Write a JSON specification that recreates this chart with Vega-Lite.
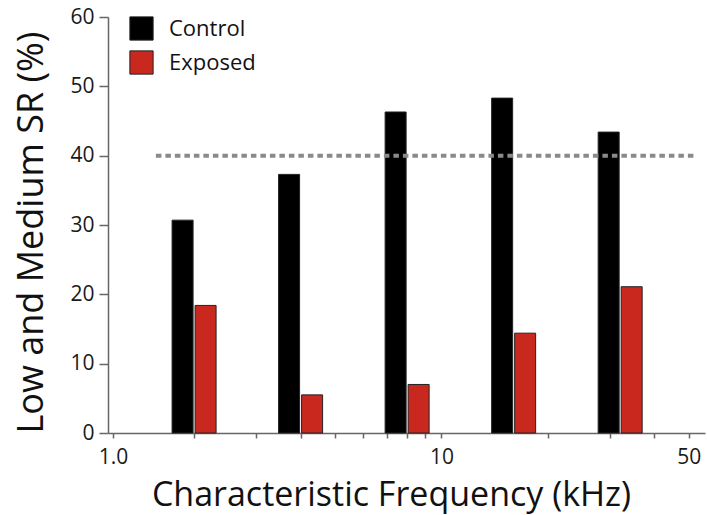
{
  "$schema": "https://vega.github.io/schema/vega-lite/v6.json",
  "width": 597,
  "height": 416,
  "autosize": {"type": "none"},
  "padding": {"left": 108, "top": 17, "right": 2, "bottom": 82},
  "background": "white",
  "config": {
    "view": {"stroke": null},
    "font": "Open Sans",
    "axis": {
      "grid": false,
      "domainColor": "#666666",
      "domainWidth": 1.5,
      "tickColor": "#666666",
      "tickWidth": 1.5,
      "labelFont": "Open Sans",
      "labelFontSize": 21,
      "labelColor": "#1a1a1a",
      "titleFont": "Open Sans",
      "titleFontWeight": "normal",
      "titleColor": "#111111"
    },
    "legend": {
      "orient": "none",
      "legendX": 21,
      "legendY": -1,
      "padding": 0,
      "symbolType": "square",
      "symbolSize": 540,
      "symbolStrokeColor": "#222222",
      "symbolStrokeWidth": 1,
      "labelFont": "Open Sans",
      "labelFontSize": 22,
      "labelColor": "#111111",
      "labelOffset": 15,
      "rowPadding": 5
    }
  },
  "datasets": {
    "bars": [
      {"freq": 2, "group": "Control", "value": 30.7},
      {"freq": 2, "group": "Exposed", "value": 18.4},
      {"freq": 4, "group": "Control", "value": 37.3},
      {"freq": 4, "group": "Exposed", "value": 5.5},
      {"freq": 8, "group": "Control", "value": 46.3},
      {"freq": 8, "group": "Exposed", "value": 7.0},
      {"freq": 16, "group": "Control", "value": 48.3},
      {"freq": 16, "group": "Exposed", "value": 14.4},
      {"freq": 32, "group": "Control", "value": 43.4},
      {"freq": 32, "group": "Exposed", "value": 21.1}
    ],
    "ref": [
      {"freq": 1.56, "freq_end": 51.6, "value": 40}
    ]
  },
  "encoding": {
    "x": {
      "field": "freq",
      "type": "quantitative",
      "scale": {"type": "log", "domain": [1.18, 53.8], "nice": false, "zero": false},
      "axis": {
        "title": "Characteristic Frequency (kHz)",
        "values": [1.18, 2, 3, 4, 5, 6, 7, 8, 9, 10, 20, 30, 40, 50],
        "labelExpr": "datum.value < 1.5 ? '1.0' : ((datum.value == 10 || datum.value == 50) ? format(datum.value, 'd') : '')",
        "labelOverlap": false,
        "labelFlush": false,
        "tickSize": 5,
        "labelPadding": 8,
        "titleFontSize": 34,
        "titleX": 283,
        "titleY": 72,
        "titleAlign": "center",
        "titleBaseline": "alphabetic"
      }
    },
    "y": {
      "field": "value",
      "type": "quantitative",
      "scale": {"domain": [0, 60], "nice": false},
      "axis": {
        "title": "Low and Medium SR (%)",
        "values": [0, 10, 20, 30, 40, 50, 60],
        "tickSize": 9,
        "labelPadding": 5,
        "titleFontSize": 36,
        "titleX": -66,
        "titleY": 215,
        "titleAngle": 270,
        "titleAlign": "center",
        "titleBaseline": "alphabetic"
      }
    }
  },
  "layer": [
    {
      "data": {"name": "bars"},
      "transform": [{"filter": "datum.group === 'Control'"}],
      "mark": {"type": "bar", "width": 21, "xOffset": -11.5, "stroke": "#222222", "strokeWidth": 1},
      "encoding": {
        "color": {
          "field": "group",
          "type": "nominal",
          "scale": {"domain": ["Control", "Exposed"], "range": ["#000000", "#c9281e"]},
          "legend": {"title": null}
        }
      }
    },
    {
      "data": {"name": "bars"},
      "transform": [{"filter": "datum.group === 'Exposed'"}],
      "mark": {"type": "bar", "width": 21, "xOffset": 11.5, "stroke": "#222222", "strokeWidth": 1},
      "encoding": {
        "color": {
          "field": "group",
          "type": "nominal",
          "scale": {"domain": ["Control", "Exposed"], "range": ["#000000", "#c9281e"]},
          "legend": {"title": null}
        }
      }
    },
    {
      "data": {"name": "ref"},
      "mark": {"type": "rule", "strokeDash": [5.5, 4], "strokeWidth": 4, "color": "#8a8a8a", "strokeCap": "butt"},
      "encoding": {
        "x2": {"field": "freq_end"}
      }
    }
  ]
}
